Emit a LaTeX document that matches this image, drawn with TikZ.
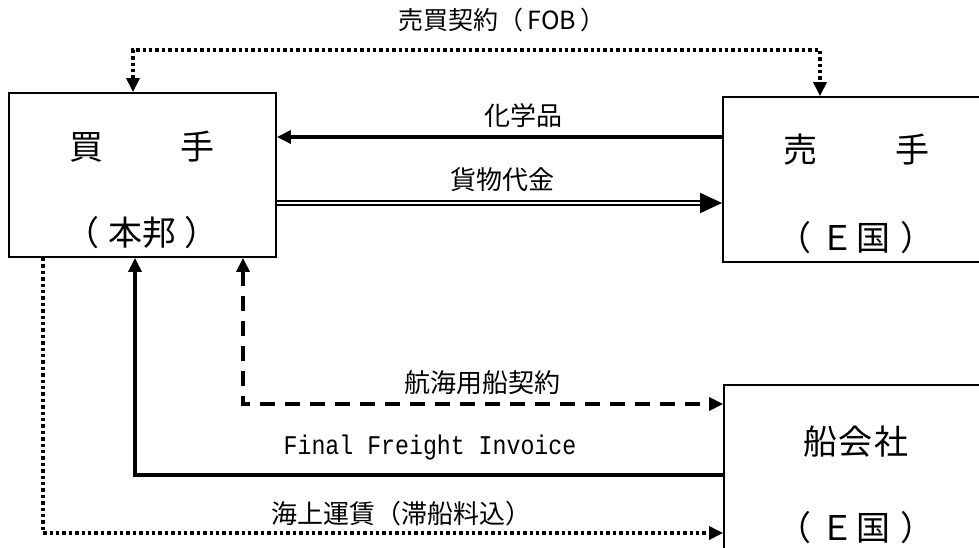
\documentclass[tikz,border=0pt]{standalone}
\usepackage{fontspec}
\newfontfamily\jp{Noto Sans CJK JP}
\setmonofont{Liberation Mono}
\usetikzlibrary{arrows.meta}
\tikzset{
  box/.style={draw, line width=1.8pt, rectangle, inner sep=0pt},
  boxtext/.style={font=\jp\fontsize{34}{36}\selectfont, inner sep=0pt},
  lbl/.style={font=\jp\fontsize{26}{28}\selectfont, inner sep=0pt},
  tip/.style={-{Triangle[length=14pt,width=13pt]}},
  solidline/.style={line width=3.4pt},
  dotline/.style={line width=3.2pt, dash pattern=on 3.4pt off 3pt},
  dashline/.style={line width=3.4pt, dash pattern=on 15pt off 10pt},
}
\begin{document}
\begin{tikzpicture}[x=1pt,y=-1pt]
\useasboundingbox (0,0) rectangle (979,548);
\clip (0,0) rectangle (979,548);
% boxes
\node[box, minimum width=267pt, minimum height=164pt] (buyer) at (142.5,175) {};
\node[box, minimum width=300pt, minimum height=165pt] (seller) at (873,179.5) {};
\node[box, minimum width=300pt, minimum height=250pt] (ship) at (874,510) {};
% box texts
\node[boxtext] (b1) at (142,147) {買\hspace{78pt}手};
\node[boxtext] (b2) at (142,233) {（\hspace{10pt}本邦\hspace{8pt}）};
\node[boxtext] (s1) at (856.5,150) {売\hspace{79pt}手};
\node[boxtext] (s2) at (856,238) {（\hspace{9pt}Ｅ\hspace{2pt}国\hspace{10pt}）};
\node[boxtext] (c1) at (856,442) {船\hspace{2pt}会\hspace{2pt}社};
\node[boxtext] (c2) at (856,528) {（\hspace{9pt}Ｅ\hspace{2pt}国\hspace{10pt}）};
% top dotted contract
\coordinate (tA) at (133,50);
\coordinate (tB) at (820,50);
\draw[dotline, {Triangle[length=14pt,width=13pt]}-{Triangle[length=14pt,width=13pt]}]
  (buyer.north -| tA) -- (tA) -- (tB) -- (seller.north -| tB);
\node[lbl, font=\jp\fontsize{25}{27}\selectfont] (l0) at (502,20) {売買契約（\,FOB\,）};
% chemicals
\draw[solidline, tip] (seller.west |- 0,137) -- (buyer.east |- 0,137);
\node[lbl] (l1) at (523,116) {化学品};
% payment double
\draw[line width=1.6pt, double, double distance=2.2pt, -{Triangle[length=22pt,width=20pt]}]
  (buyer.east |- 0,203) -- (seller.west |- 0,203);
\node[lbl] (l2) at (502,180) {貨物代金};
% charter contract dashed
\coordinate (dA) at (243,404);
\draw[dashline, {Triangle[length=14pt,width=13pt]}-{Triangle[length=14pt,width=13pt]}]
  (buyer.south -| dA) -- (dA) -- (ship.west |- dA);
\node[lbl] (l3) at (482,383) {航海用船契約};
% final freight invoice
\coordinate (fA) at (135,475);
\draw[solidline, tip] (ship.west |- fA) -- (fA) -- (buyer.south -| fA);
\node[font=\ttfamily\fontsize{27}{29}\selectfont, inner sep=0pt, xscale=0.86] (l4) at (430,448) {Final Freight Invoice};
% ocean freight dotted
\coordinate (oA) at (43,533);
\draw[dotline, tip] (buyer.south -| oA) -- (oA) -- (ship.west |- oA);
\node[lbl] (l5) at (401,514) {海上運賃（滞船料込）};
\end{tikzpicture}
\end{document}
